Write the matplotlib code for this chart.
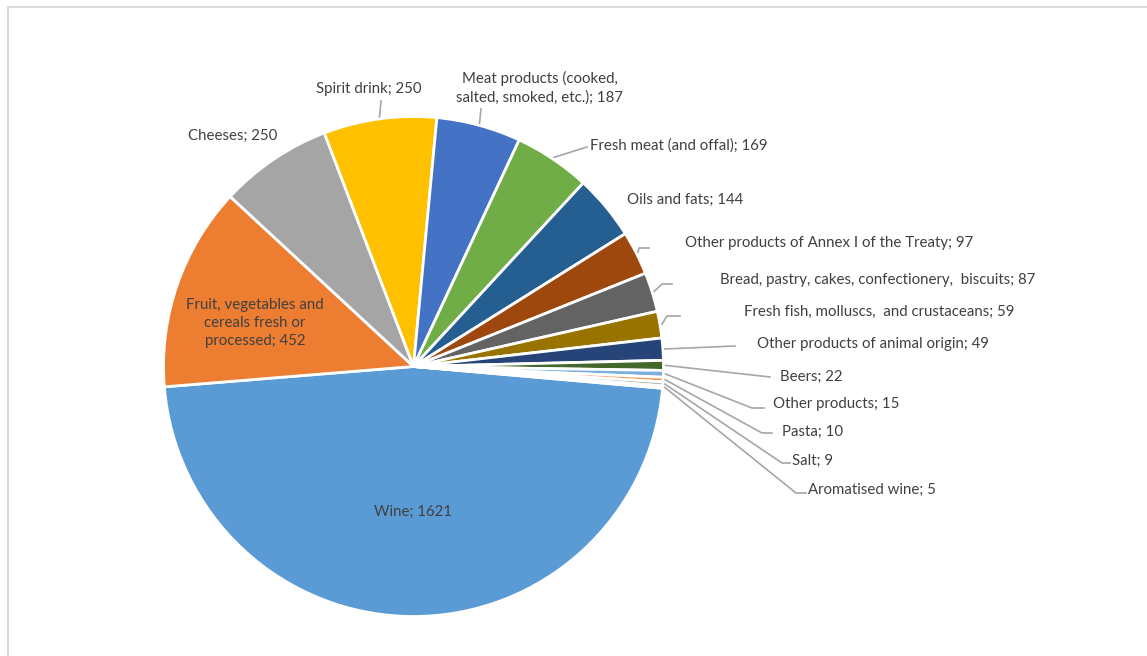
import numpy as np
import matplotlib.pyplot as plt
from matplotlib.lines import Line2D

plt.rcParams['font.family'] = ['Lato', 'DejaVu Sans']

categories = ['Wine', 'Fruit, vegetables and\ncereals fresh or\nprocessed', 'Cheeses', 'Spirit drink',
              'Meat products (cooked,\nsalted, smoked, etc.)', 'Fresh meat (and offal)', 'Oils and fats',
              'Other products of Annex I of the Treaty', 'Bread, pastry, cakes, confectionery,  biscuits',
              'Fresh fish, molluscs,  and crustaceans', 'Other products of animal origin', 'Beers',
              'Other products', 'Pasta', 'Salt', 'Aromatised wine']
values = [1621, 452, 250, 250, 187, 169, 144, 97, 87, 59, 49, 22, 15, 10, 9, 5]
colors = ['#5B9BD5', '#ED7D31', '#A5A5A5', '#FFC000', '#4472C4', '#70AD47', '#255E91', '#9E480E',
          '#636363', '#997300', '#264478', '#43682B', '#7CAFDD', '#F1975A', '#B7B7B7', '#FFCD33']

W, H = 1147, 656
# label layout in pixel coords (y from top): text x, text y, ha, leader points (or None)
layout = [
    (413, 512, 'center', None),
    (255, 323, 'center', None),
    (233, 136, 'center', None),
    (369, 89, 'center', [(381, 101)]),
    (540, 88, 'center', [(481, 109)]),
    (590, 146, 'left', [(587, 147)]),
    (627, 200, 'left', None),
    (685, 243, 'left', [(639, 248), (649, 248)]),
    (720, 280, 'left', [(662, 284), (672, 284)]),
    (744, 312, 'left', [(667, 316), (680, 316)]),
    (757, 344, 'left', [(735, 346)]),
    (780, 377, 'left', [(770, 377)]),
    (773, 404, 'left', [(752, 408), (764, 408)]),
    (782, 432, 'left', [(762, 433), (772, 433)]),
    (792, 461, 'left', [(782, 463), (790, 463)]),
    (808, 490, 'left', [(796, 493), (806, 493)]),
]

fig = plt.figure(figsize=(W / 100, H / 100), dpi=100)
ax = fig.add_axes([0, 0, 1, 1])

cx, cy, r = 413.5, H - 366.5, 250
wedges, _ = ax.pie(values, colors=colors, startangle=-5, counterclock=False, radius=r,
                   center=(cx, cy), frame=True,
                   wedgeprops=dict(edgecolor='white', linewidth=2))
ax.set_xlim(0, W)
ax.set_ylim(0, H)
ax.set_aspect('equal')
ax.axis('off')

tc = '#404040'
for w, cat, val, (tx, ty, ha, lead) in zip(wedges, categories, values, layout):
    ax.text(tx, H - ty, f'{cat}; {val}', ha=ha, va='center', fontsize=10.8, color=tc,
            multialignment='center', linespacing=1.4)
    if lead:
        mid = np.deg2rad((w.theta1 + w.theta2) / 2)
        sx, sy = cx + (r + 2) * np.cos(mid), cy + (r + 2) * np.sin(mid)
        xs = [sx] + [p[0] for p in lead]
        ys = [sy] + [H - p[1] for p in lead]
        ax.plot(xs, ys, color='#A6A6A6', lw=1.2)

# chart border
fig.add_artist(Line2D([8 / W, 1], [1 - 7 / H, 1 - 7 / H], color='#D9D9D9', lw=1.5))
fig.add_artist(Line2D([8 / W, 8 / W], [0, 1 - 7 / H], color='#D9D9D9', lw=1.5))

fig.savefig('out.png', dpi=100)
